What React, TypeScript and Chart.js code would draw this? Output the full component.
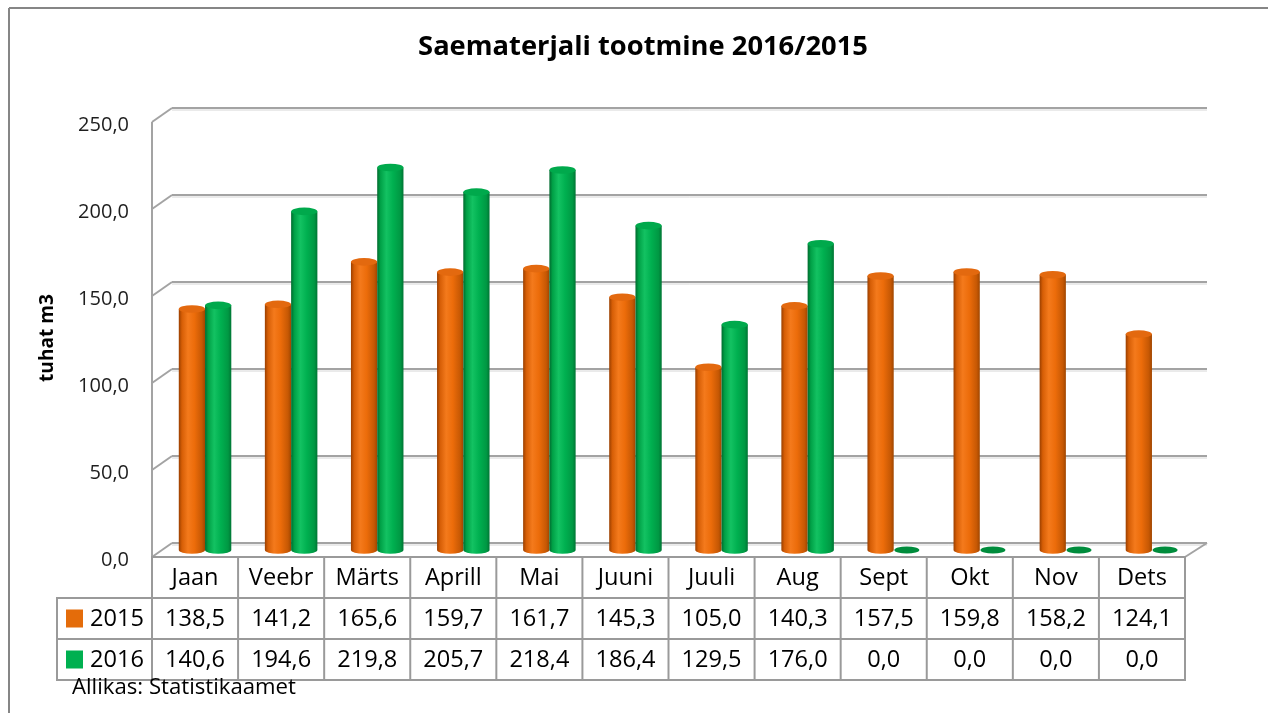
import { useEffect, useRef } from 'react';
import { Chart, registerables } from 'chart.js';

Chart.register(...registerables);

const W = 1268;
const H = 713;

const title = 'Saematerjali tootmine 2016/2015';
const yAxisTitle = 'tuhat m3';
const sourceNote = 'Allikas: Statistikaamet';
const categories = ['Jaan', 'Veebr', 'Märts', 'Aprill', 'Mai', 'Juuni', 'Juuli', 'Aug', 'Sept', 'Okt', 'Nov', 'Dets'];
const seriesNames = ['2015', '2016'];
const values2015 = [138.5, 141.2, 165.6, 159.7, 161.7, 145.3, 105.0, 140.3, 157.5, 159.8, 158.2, 124.1];
const values2016 = [140.6, 194.6, 219.8, 205.7, 218.4, 186.4, 129.5, 176.0, 0.0, 0.0, 0.0, 0.0];
const yTicks = [0, 50, 100, 150, 200, 250];

const FONT = '"Open Sans", "Noto Sans", sans-serif';
const DX = 10;
const DY = 7;
const GRID = '#a3a3a3';

const palettes = [
  {
    stops: ['#9a3f00', '#d65e06', '#f47a1c', '#ec6c0a', '#c65804', '#a04600'],
    top: '#e3690f',
    flat: '#c85a08',
  },
  {
    stops: ['#006a2e', '#00a046', '#13c262', '#00b050', '#009843', '#007534'],
    top: '#00a94c',
    flat: '#008c3c',
  },
];

const fmt = (v: number) => v.toFixed(1).replace('.', ',');

function fit(ctx: CanvasRenderingContext2D, text: string, weight: string, target: number) {
  ctx.font = `${weight} 100px ${FONT}`;
  const w = ctx.measureText(text).width;
  return (100 * target) / w;
}

function cylinder(ctx: CanvasRenderingContext2D, cx: number, w: number, yTop: number, yBase: number, p: any) {
  const rx = w / 2;
  const ry = 3.8;
  const left = cx - rx;
  const right = cx + rx;
  if (yBase - yTop > 0.5) {
    const g = ctx.createLinearGradient(left, 0, right, 0);
    const pos = [0, 0.12, 0.35, 0.6, 0.88, 1];
    p.stops.forEach((c: string, i: number) => g.addColorStop(pos[i], c));
    ctx.beginPath();
    ctx.moveTo(left, yTop);
    ctx.lineTo(left, yBase);
    ctx.ellipse(cx, yBase, rx, ry, 0, Math.PI, 0, true);
    ctx.lineTo(right, yTop);
    ctx.closePath();
    ctx.fillStyle = g;
    ctx.fill();
    ctx.beginPath();
    ctx.ellipse(cx, yTop, rx, ry, 0, 0, Math.PI * 2);
    ctx.fillStyle = p.top;
    ctx.fill();
  } else {
    ctx.beginPath();
    ctx.ellipse(cx, yBase, rx * 0.95, ry * 0.95, 0, 0, Math.PI * 2);
    ctx.fillStyle = p.flat;
    ctx.fill();
  }
}

function line(ctx: CanvasRenderingContext2D, x1: number, y1: number, x2: number, y2: number) {
  ctx.beginPath();
  ctx.moveTo(x1, y1);
  ctx.lineTo(x2, y2);
  ctx.stroke();
}

const decorPlugin = {
  id: 'decor',
  beforeDraw(chart: any) {
    const { ctx, chartArea, scales } = chart;
    const y = scales.y;
    const left = chartArea.left;
    const right = chartArea.right;
    ctx.save();
    ctx.fillStyle = '#ffffff';
    ctx.fillRect(0, 0, W, H);

    // outer frame
    ctx.strokeStyle = '#868686';
    ctx.lineWidth = 2;
    line(ctx, 9, 8, W, 8);
    line(ctx, 9, 8, 9, H);

    // walls & gridlines
    ctx.lineWidth = 2;
    ctx.strokeStyle = GRID;
    const yTopFront = y.getPixelForValue(yTicks[yTicks.length - 1]) + DY;
    const y0 = y.getPixelForValue(0);
    line(ctx, left - DX, yTopFront, left - DX, y0 + DY);
    yTicks.forEach((v) => {
      const ym = y.getPixelForValue(v);
      ctx.strokeStyle = '#d6d6d6';
      ctx.lineWidth = 1;
      line(ctx, left + DX, ym - DY + 2, right + DX + 2, ym - DY + 2);
      ctx.strokeStyle = GRID;
      ctx.lineWidth = 2;
      line(ctx, left + DX, ym - DY, right + DX + 2, ym - DY);
      line(ctx, left - DX, ym + DY, left + DX, ym - DY);
    });
    // floor right edge
    line(ctx, right - DX, y0 + DY, right + DX + 2, y0 - DY);

    // tick labels
    ctx.fillStyle = '#1e1e1e';
    const ts = fit(ctx, '150,0', '400', 51);
    ctx.font = `400 ${ts}px ${FONT}`;
    ctx.textAlign = 'right';
    ctx.textBaseline = 'middle';
    yTicks.forEach((v) => {
      ctx.fillText(fmt(v), 129, y.getPixelForValue(v) + DY + 3);
    });

    // axis title
    const as = fit(ctx, yAxisTitle, '700', 88);
    ctx.font = `700 ${as}px ${FONT}`;
    ctx.fillStyle = '#000';
    ctx.translate(48, 338);
    ctx.rotate(-Math.PI / 2);
    ctx.textAlign = 'center';
    ctx.fillText(yAxisTitle, 0, 0);
    ctx.setTransform(1, 0, 0, 1, 0, 0);

    // title
    const tsz = fit(ctx, title, '700', 450);
    ctx.font = `700 ${tsz}px ${FONT}`;
    ctx.fillStyle = '#000';
    ctx.textAlign = 'center';
    ctx.fillText(title, 643, 47);
    ctx.restore();
  },
  beforeDatasetDraw() {
    return false;
  },
  afterDatasetsDraw(chart: any) {
    const { ctx } = chart;
    ctx.save();
    const n = chart.data.labels.length;
    for (let i = 0; i < n; i++) {
      chart.data.datasets.forEach((_: any, di: number) => {
        const el = chart.getDatasetMeta(di).data[i];
        const { x, y, base, width } = el.getProps(['x', 'y', 'base', 'width'], true);
        cylinder(ctx, x, width, y, base, palettes[di]);
      });
    }
    ctx.restore();
  },
  afterDraw(chart: any) {
    const { ctx, chartArea, scales } = chart;
    const xs = scales.x;
    const y0 = scales.y.getPixelForValue(0) + DY;
    const colW = (chartArea.right - chartArea.left) / categories.length;
    const x0 = chartArea.left - DX;
    const x1 = chartArea.right - DX;
    const rowH = 41;
    const rows = [y0, y0 + rowH, y0 + 2 * rowH, y0 + 3 * rowH];
    const legendLeft = 57;
    ctx.save();
    ctx.strokeStyle = '#9a9a9a';
    ctx.lineWidth = 2;
    line(ctx, x0 - 1, rows[0], x1 + 1, rows[0]);
    for (let r = 1; r < 4; r++) line(ctx, legendLeft - 1, rows[r], x1 + 1, rows[r]);
    for (let c = 0; c <= categories.length; c++) {
      const xx = x0 + c * colW;
      line(ctx, xx, rows[0], xx, rows[3]);
    }
    line(ctx, legendLeft, rows[1], legendLeft, rows[3]);

    const fs = fit(ctx, '138,5', '400', 60);
    ctx.font = `400 ${fs}px ${FONT}`;
    ctx.fillStyle = '#000';
    ctx.textAlign = 'center';
    ctx.textBaseline = 'middle';
    categories.forEach((c, i) => {
      const cx = xs.getPixelForValue(i) - DX;
      ctx.fillText(c, cx, (rows[0] + rows[1]) / 2 + 1);
      ctx.fillText(fmt(values2015[i]), cx, (rows[1] + rows[2]) / 2 + 1);
      ctx.fillText(fmt(values2016[i]), cx, (rows[2] + rows[3]) / 2 + 1);
    });
    // legend keys
    ctx.textAlign = 'left';
    seriesNames.forEach((s, i) => {
      const cy = (rows[i + 1] + rows[i + 2]) / 2;
      ctx.fillStyle = i === 0 ? '#e46c0a' : '#00b050';
      ctx.fillRect(66, cy - 9, 17, 18);
      ctx.fillStyle = '#000';
      ctx.fillText(s, 90, cy + 1);
    });
    // source
    const ss = fit(ctx, sourceNote, '400', 224);
    ctx.font = `400 ${ss}px ${FONT}`;
    ctx.fillStyle = '#000';
    ctx.textAlign = 'left';
    ctx.fillText(sourceNote, 72, 688);
    ctx.restore();
  },
};

export default function App() {
  const ref = useRef<HTMLCanvasElement | null>(null);
  useEffect(() => {
    const canvas = ref.current;
    if (!canvas) return;
    const chart = new Chart(canvas, {
      type: 'bar',
      data: {
        labels: categories,
        datasets: [
          { label: seriesNames[0], data: values2015, backgroundColor: '#e46c0a', categoryPercentage: 0.61, barPercentage: 1 },
          { label: seriesNames[1], data: values2016, backgroundColor: '#00b050', categoryPercentage: 0.61, barPercentage: 1 },
        ],
      },
      options: {
        responsive: false,
        devicePixelRatio: 1,
        animation: false,
        layout: { padding: { left: 162, right: 73, top: 115, bottom: 163 } },
        scales: {
          x: { display: false },
          y: { display: false, min: 0, max: 250 },
        },
        plugins: {
          legend: { display: false },
          tooltip: { enabled: false },
        },
      },
      plugins: [decorPlugin],
    });
    return () => chart.destroy();
  }, []);
  return (
    <div style={{ position: 'absolute', left: 0, top: 0, width: W, height: H, background: '#fff' }}>
      <canvas ref={ref} width={W} height={H} style={{ display: 'block' }} />
    </div>
  );
}
